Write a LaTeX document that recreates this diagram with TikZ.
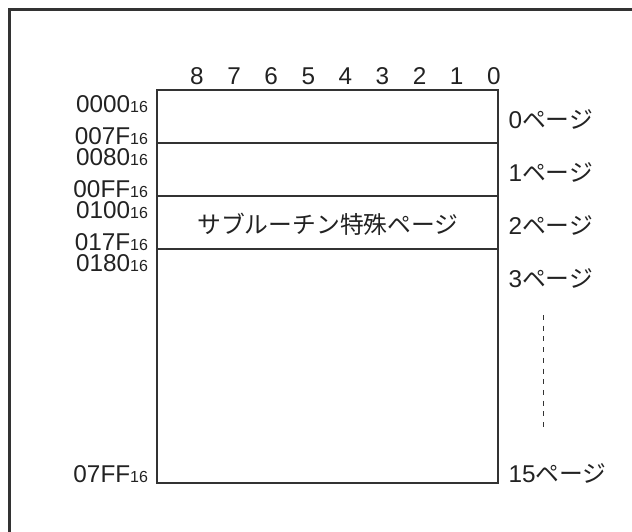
\documentclass[tikz,border=0pt]{standalone}
\usepackage{fontspec}
\setmainfont{Liberation Sans}
\newfontfamily\jpfam{Noto Sans CJK JP}
\newcommand{\jp}{\jpfam\fontsize{23.8}{27}\selectfont}
\definecolor{ink}{HTML}{222222}
\definecolor{linecol}{HTML}{333333}
\newcommand{\hexsub}[1]{#1{\fontsize{16}{16}\selectfont 16}}
\begin{document}
\begin{tikzpicture}[x=1pt,y=-1pt,
  every node/.style={inner sep=0pt, outer sep=0pt, text=ink, font=\fontsize{24.3}{27}\selectfont},
  addr/.style={anchor=base east},
  pagelbl/.style={anchor=base west},
  bitnum/.style={anchor=base},
  boxline/.style={draw=linecol, line width=1.3},
  frameline/.style={draw=linecol, line width=3}]
\useasboundingbox (0,0) rectangle (632,532);
% outer frame (open on right and bottom)
\draw[frameline] (9.5,532) -- (9.5,9.5) -- (632,9.5);
% memory box
\coordinate (tl) at (157.3,90);
\coordinate (br) at (497.7,483.3);
\draw[boxline, line width=1.8] (tl) rectangle (br);
\coordinate (l1) at (157.3,143); \coordinate (r1) at (497.7,143);
\coordinate (l2) at (157.3,196); \coordinate (r2) at (497.7,196);
\coordinate (l3) at (157.3,249); \coordinate (r3) at (497.7,249);
\draw[boxline] (l1) -- (r1);
\draw[boxline] (l2) -- (r2);
\draw[boxline] (l3) -- (r3);
% bit numbers
\foreach \b [count=\i from 0] in {8,7,6,5,4,3,2,1,0} {
  \node[bitnum] (bit\b) at ({197+37.1*\i},85) {\b};
}
% addresses
\node[addr] (a0) at (148,113) {\hexsub{0000}};
\node[addr] (a1) at (148,144.5) {\hexsub{007F}};
\node[addr] (a2) at (148,165) {\hexsub{0080}};
\node[addr] (a3) at (148,197.5) {\hexsub{00FF}};
\node[addr] (a4) at (148,218) {\hexsub{0100}};
\node[addr] (a5) at (148,250.5) {\hexsub{017F}};
\node[addr] (a6) at (148,271) {\hexsub{0180}};
\node[addr] (a7) at (148,482) {\hexsub{07FF}};
% special page label
\node (sub) at (328,224) {\jp サブルーチン特殊ページ};
% page labels
\node[pagelbl] (p0) at (508.5,128.5) {0{\jp ページ}};
\node[pagelbl] (p1) at (508.5,181.5) {1{\jp ページ}};
\node[pagelbl] (p2) at (508.5,234.5) {2{\jp ページ}};
\node[pagelbl] (p3) at (508.5,287.5) {3{\jp ページ}};
\node[pagelbl] (p15) at (508.5,482) {15{\jp ページ}};
% dashed continuation
\coordinate (d1) at (543.5,315);
\coordinate (d2) at (543.5,427);
\draw[draw=linecol, line width=1.4, dash pattern=on 5pt off 5.7pt] (d1) -- (d2);
\end{tikzpicture}
\end{document}
